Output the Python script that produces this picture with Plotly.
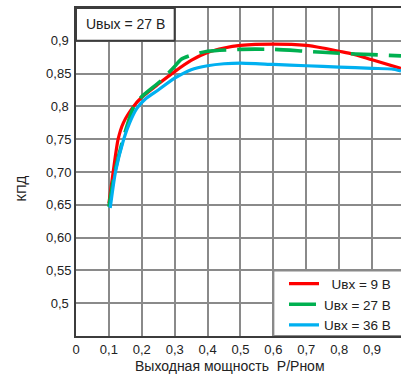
import plotly.graph_objects as go

# ---- data ----
red_x = [0.100, 0.113, 0.128, 0.144, 0.175, 0.200, 0.250, 0.300, 0.350, 0.400, 0.450, 0.500, 0.600, 0.700, 0.750, 0.800, 0.840, 0.900, 0.988]
red_y = [0.652, 0.700, 0.750, 0.775, 0.800, 0.814, 0.834, 0.853, 0.870, 0.882, 0.889, 0.893, 0.895, 0.893, 0.889, 0.884, 0.880, 0.871, 0.858]

green_x = [0.100, 0.118, 0.143, 0.176, 0.200, 0.260, 0.300, 0.320, 0.350, 0.400, 0.500, 0.600, 0.700, 0.800, 0.900, 0.988]
green_y = [0.647, 0.700, 0.750, 0.800, 0.815, 0.840, 0.861, 0.872, 0.878, 0.884, 0.887, 0.887, 0.884, 0.881, 0.879, 0.877]

blue_x = [0.104, 0.120, 0.145, 0.163, 0.185, 0.210, 0.250, 0.300, 0.350, 0.400, 0.450, 0.500, 0.600, 0.700, 0.800, 0.900, 0.960, 0.988]
blue_y = [0.645, 0.700, 0.750, 0.775, 0.797, 0.811, 0.825, 0.843, 0.856, 0.862, 0.865, 0.866, 0.864, 0.862, 0.860, 0.858, 0.857, 0.854]

series_names = ["Uвх = 9 В", "Uвх = 27 В", "Uвх = 36 В"]

x_tickvals = [0, 0.1, 0.2, 0.3, 0.4, 0.5, 0.6, 0.7, 0.8, 0.9]
x_ticktext = ["0", "0,1", "0,2", "0,3", "0,4", "0,5", "0,6", "0,7", "0,8", "0,9"]
y_tickvals = [0.5, 0.55, 0.6, 0.65, 0.7, 0.75, 0.8, 0.85, 0.9]
y_ticktext = ["0,5\u2009", "0,55", "0,60", "0,65", "0,70", "0,75", "0,8\u2009", "0,85", "0,9\u2009"]

title_box_text = "Uвых = 27 В"
x_title = "Выходная мощность  P/Pном"
y_title = "КПД"

FONT = "Liberation Sans, Arial, sans-serif"
TXT = "#222222"
GRID = "#8a8a8a"
FRAME = "#3c3c3c"

fig = go.Figure()
fig.add_trace(go.Scatter(x=red_x, y=red_y, mode="lines", name="\u2007" + series_names[0],
                         line=dict(color="#ff0000", width=3.2, shape="spline", smoothing=0.6)))
fig.add_trace(go.Scatter(x=green_x, y=green_y, mode="lines", name=series_names[1],
                         line=dict(color="#00b050", width=3.6, dash="27px,11px", shape="spline", smoothing=0.6)))
fig.add_trace(go.Scatter(x=blue_x, y=blue_y, mode="lines", name=series_names[2],
                         line=dict(color="#00b0f0", width=3.2, shape="spline", smoothing=0.6)))

fig.update_layout(
    width=401, height=376, autosize=False,
    margin=dict(l=76, r=0, t=8, b=40),
    paper_bgcolor="white", plot_bgcolor="white",
    font=dict(family=FONT, size=13, color=TXT),
    showlegend=True,
    legend=dict(x=0.64, y=0.206, xanchor="left", yanchor="top",
                bgcolor="rgba(0,0,0,0)", borderwidth=0,
                font=dict(family=FONT, size=13.5, color=TXT),
                itemwidth=30, tracegroupgap=0),
    xaxis=dict(range=[0, 0.988], tickvals=x_tickvals, ticktext=x_ticktext,
               showgrid=True, gridcolor=GRID, gridwidth=2,
               showline=True, linecolor=FRAME, linewidth=2, mirror=True,
               zeroline=False, ticks="", tickfont=dict(size=13, color=TXT)),
    yaxis=dict(range=[0.45, 0.95], tickvals=y_tickvals, ticktext=y_ticktext,
               showgrid=True, gridcolor=GRID, gridwidth=2,
               showline=True, linecolor=FRAME, linewidth=2,
               zeroline=False, ticks="", tickfont=dict(size=13, color=TXT)),
    shapes=[
        dict(type="rect", xref="x", yref="y", x0=0, x1=0.3, y0=0.9, y1=0.95,
             fillcolor="white", line=dict(color=FRAME, width=2), layer="above"),
        dict(type="rect", xref="x", yref="y", x0=0.6, x1=1.05, y0=0.45, y1=0.55,
             fillcolor="white", line=dict(color=GRID, width=2), layer="above"),
    ],
    annotations=[
        dict(text=title_box_text, xref="x", yref="y", x=0.15, y=0.925, showarrow=False,
             font=dict(family=FONT, size=14, color=TXT), xanchor="center", yanchor="middle"),
        dict(text=x_title, xref="paper", yref="paper", x=0.474, y=0, yshift=-30, showarrow=False,
             font=dict(family=FONT, size=14, color=TXT), xanchor="center", yanchor="middle"),
        dict(text=y_title, xref="paper", yref="paper", x=0, xshift=-55, y=0.45, showarrow=False,
             textangle=-90, font=dict(family=FONT, size=13, color=TXT), xanchor="center", yanchor="middle"),
    ],
)

fig.write_html("out.html", config={"displayModeBar": False},
               post_script="document.body.style.margin='0';document.body.style.overflow='hidden';")
